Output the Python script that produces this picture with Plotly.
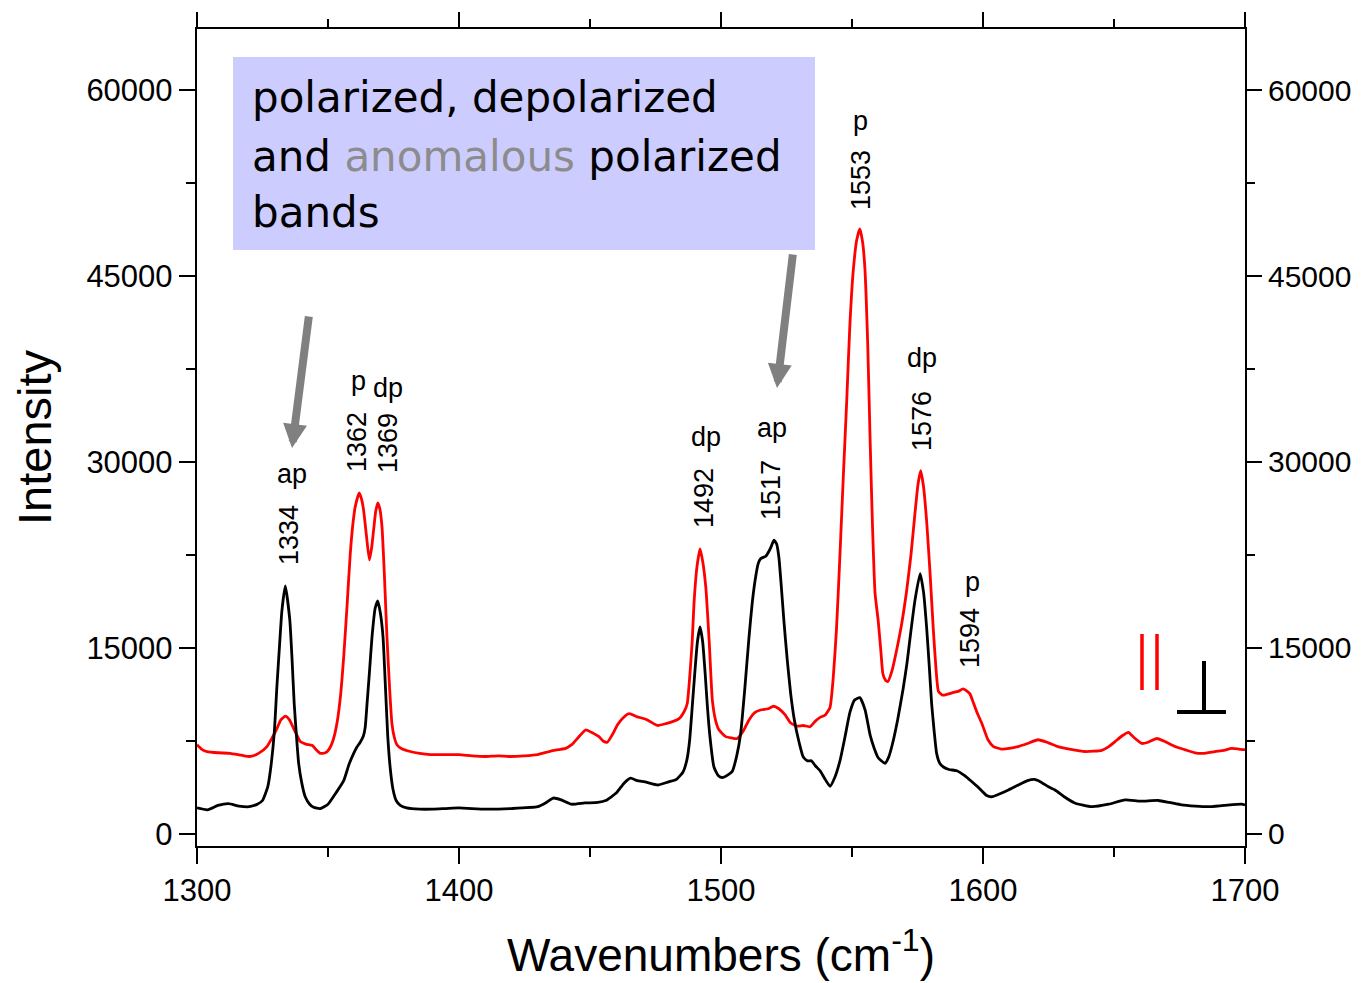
import plotly.graph_objects as go

# ---------------- data ----------------
black_wn = [1300, 1304, 1308, 1312, 1316, 1320, 1323, 1325, 1327, 1328, 1329.5, 1330.5, 1331.5, 1332.4,
            1333.7, 1335.4, 1336.3, 1337.1, 1338, 1338.8, 1340, 1341.3, 1343, 1344.5, 1347, 1350, 1353,
            1356, 1358, 1359.8, 1361, 1362.3, 1363.5, 1364.2, 1364.9, 1365.8, 1366.8, 1368, 1369, 1370,
            1371, 1372, 1372.8, 1373.8, 1374.8, 1376, 1377.6, 1380, 1385, 1390, 1395, 1400, 1410, 1420,
            1430, 1433, 1436, 1439, 1443, 1448, 1453, 1456, 1460, 1463, 1465.5, 1468, 1471, 1476, 1480,
            1483, 1485.5, 1487, 1488, 1489, 1490, 1491, 1492, 1493, 1494, 1494.8, 1495.8, 1497.3, 1499,
            1500.5, 1502.5, 1504.3, 1506, 1507.5, 1509, 1510.7, 1512, 1513.2, 1514.2, 1515.1, 1516,
            1517.1, 1518.3, 1519.2, 1520.2, 1521.2, 1522.1, 1523, 1524, 1525.3, 1526.6, 1528, 1529.8,
            1531.4, 1533, 1534.5, 1536, 1537.8, 1539.5, 1541.6, 1543.5, 1545.4, 1547.3, 1549.2, 1551,
            1553, 1555, 1556.9, 1558.5, 1560, 1562.6, 1564, 1565.6, 1567.5, 1569.5, 1571, 1572.1, 1574,
            1576, 1577.3, 1578.5, 1579.5, 1580.4, 1581.4, 1582.3, 1583.5, 1584.9, 1587, 1590, 1593, 1595,
            1598, 1601.4, 1603.3, 1606, 1609.7, 1613, 1617, 1619.6, 1622, 1625, 1627.5, 1631, 1635,
            1641.5, 1648, 1654.2, 1660, 1666.9, 1671, 1675.8, 1681, 1686, 1692, 1698.7, 1700]
black_int = [2100, 1950, 2300, 2450, 2250, 2200, 2400, 2700, 3800, 5100, 8200, 11900, 15200, 18000,
             20000, 17300, 14000, 10500, 7800, 5700, 4100, 3000, 2400, 2150, 2050, 2400, 3300,
             4300, 5600, 6500, 7000, 7400, 7900, 8600, 10500, 13000, 15900, 18200, 18800, 17800,
             15900, 11500, 7900, 5200, 3600, 2700, 2300, 2100, 2000, 2000, 2050, 2100, 2000, 2050,
             2200, 2500, 2900, 2750, 2400, 2500, 2550, 2700, 3300, 4100, 4500, 4300, 4200, 3950, 4200,
             4400, 5000, 6000, 7500, 10200, 13000, 15500, 16700, 15500, 12800, 10300, 7800, 5400, 4700,
             4550, 4750, 5050, 6300, 8100, 11500, 15900, 18800, 20700, 21800, 22200, 22300,
             22400, 22800, 23200, 23700, 23400, 22300, 20000, 17200, 14000, 11300, 9200, 7400,
             6200, 5900, 5900, 5500, 5100, 4500, 3850, 4600, 5900, 7800, 9800, 10800,
             11000, 10000, 8000, 6900, 6150, 5700, 6200, 7400, 9300, 11700, 13800, 15700, 18800,
             21000, 19500, 16600, 13500, 10500, 8200, 6500, 5700, 5400, 5200, 5100, 4700, 4350,
             3800, 3100, 3000, 3200, 3550, 3900, 4300, 4400, 4200, 3800, 3550, 3000, 2500,
             2200, 2400, 2750, 2650, 2700, 2550, 2350, 2250, 2200, 2300, 2400, 2350]

red_wn = [1300, 1302, 1303.8, 1308, 1312.7, 1317, 1320.4, 1323.5, 1326.7, 1328.8, 1330.5, 1332, 1333.7,
          1335.3, 1336.9, 1338.3, 1339.4, 1341.5, 1343.9, 1345.5, 1347.1, 1349, 1350.3, 1352, 1353.4,
          1354.8, 1356, 1357.3, 1358.5, 1359.5, 1360.4, 1361.9, 1362.8, 1363.6, 1364.7, 1365.8, 1366.6,
          1367.4, 1368.2, 1369, 1369.8, 1370.6, 1371.5, 1372.5, 1373.5, 1374.4, 1375.3, 1376.3, 1378,
          1381.4, 1385, 1389, 1395, 1400, 1405, 1410, 1415, 1419, 1425, 1430, 1434.4, 1438, 1440.7,
          1443, 1446, 1448.4, 1450.5, 1453.4, 1455, 1456.6, 1458.5, 1460.5, 1462.3, 1464.9, 1468,
          1471.3, 1473.5, 1475.7, 1479, 1482, 1484, 1486, 1487.1, 1488, 1489, 1489.7, 1490.8, 1492,
          1493, 1494.2, 1495.5, 1496.7, 1498, 1499.2, 1501.8, 1504, 1506.2, 1508.5, 1510.7, 1513,
          1515.1, 1518, 1520, 1522.1, 1524.5, 1526.6, 1529, 1531.4, 1534, 1536, 1537.8, 1539.8,
          1541.6, 1542.8, 1544.1, 1545.4, 1546.7, 1548, 1549.2, 1550.5, 1551.8, 1553, 1554, 1554.9,
          1556, 1556.9, 1557.8, 1558.8, 1560, 1561, 1561.8, 1562.8, 1563.7, 1565.3, 1567, 1569,
          1570.9, 1572.5, 1574, 1575.2, 1576.2, 1577.3, 1578.5, 1579.8, 1581, 1582, 1583, 1584.5,
          1586.1, 1588.5, 1590.5, 1592.4, 1594, 1595, 1596.3, 1597.6, 1599.5, 1601.9, 1604, 1607.1,
          1610, 1613.4, 1617, 1621, 1625, 1628.6, 1633, 1639, 1645.3, 1648, 1650.4, 1653, 1655.5,
          1657.5, 1660.6, 1663, 1666.3, 1669, 1673.3, 1677, 1680.9, 1684, 1688.5, 1692, 1694.9,
          1699.4, 1700]
red_int = [7200, 6800, 6650, 6550, 6500, 6350, 6250, 6500, 7050, 7800, 8500, 9200, 9500,
           9200, 8500, 7900, 7450, 7250, 7150, 6800, 6500, 6550, 6800, 7600, 8900,
           11200, 14300, 18500, 22600, 25000, 26400, 27500, 27000, 26100, 24000, 22100, 23000,
           24500, 26000, 26700, 26200, 24800, 21000, 15900, 11800, 8900, 7800, 7200, 6900,
           6650, 6500, 6400, 6400, 6400, 6300, 6250, 6300, 6250, 6300, 6400, 6650, 6800, 6900,
           7200, 7900, 8400, 8200, 7850, 7500, 7400, 8000, 8800, 9300, 9700, 9450,
           9250, 9000, 8750, 8900, 9100, 9300, 9900, 10500, 12500, 15500, 18600, 21500, 23000,
           22000, 19900, 15500, 10800, 9100, 8400, 7850, 7750, 7700, 8300, 9200, 9800,
           10000, 10100, 10300, 10100, 9600, 8950, 8700, 8750, 8650, 9100, 9400, 9600,
           10200, 12500, 16600, 22500, 28900, 35000, 41100, 45500, 47900, 48800, 47800, 45700,
           39500, 31900, 25000, 19400, 17200, 14800, 12900, 12400, 12300, 13200, 14800, 17000,
           19700, 22500, 25800, 28200, 29300, 28000, 25200, 21000, 16600, 13500, 11500, 11200,
           11250, 11400, 11500, 11700, 11500, 11300, 10600, 9850, 8950, 7600, 7050, 6850,
           6900, 7050, 7300, 7600, 7350, 7050, 6850, 6650, 6750, 7050, 7450, 7900, 8200,
           7800, 7300, 7400, 7700, 7500, 7050, 6800, 6550, 6500, 6650, 6750, 6900,
           6800, 6800]

x_ticks = [1300, 1400, 1500, 1600, 1700]
y_ticks = [0, 15000, 30000, 45000, 60000]
y_tick_labels = ["0", "15000", "30000", "45000", "60000"]
x_range = [1300, 1700]
y_range = [-970, 64920]

peak_numbers = ["1334", "1362", "1369", "1492", "1517", "1553", "1576", "1594"]
peak_types = ["ap", "p", "dp", "dp", "ap", "p", "dp", "p"]

# ---------------- layout helpers (pixel -> paper) ----------------
W, H = 1365, 983
L, R, T, B = 197, 1245, 29, 846


def px(x):
    return (x - L) / (R - L)


def py(y):
    return (B - y) / (B - T)


FONT = "Liberation Sans, Arial, sans-serif"

fig = go.Figure()
fig.add_trace(go.Scatter(x=red_wn, y=red_int, mode="lines",
                         line=dict(color="#ff0000", width=2.8, shape="spline", smoothing=0.5),
                         showlegend=False, hoverinfo="skip"))
fig.add_trace(go.Scatter(x=black_wn, y=black_int, mode="lines",
                         line=dict(color="#000000", width=2.8, shape="spline", smoothing=0.5),
                         showlegend=False, hoverinfo="skip"))
# invisible trace for the mirrored (top/right) axes
fig.add_trace(go.Scatter(x=[x_range[0]], y=[y_range[0]], xaxis="x2", yaxis="y2",
                         mode="markers", marker=dict(opacity=0), showlegend=False, hoverinfo="skip"))

axis_common = dict(showgrid=False, zeroline=False, ticks="outside", ticklen=16, tickwidth=2.2,
                   tickcolor="black", linecolor="black", linewidth=2.4, automargin=False)
big_tick_font = dict(family=FONT, size=31, color="black")
right_tick_font = dict(family=FONT, size=30, color="black")

fig.update_layout(
    width=W, height=H,
    margin=dict(l=L, r=W - R, t=T, b=H - B),
    paper_bgcolor="white", plot_bgcolor="white",
    xaxis=dict(range=x_range, tickvals=x_ticks, ticktext=[str(v) for v in x_ticks],
               showline=True, mirror=True, tickfont=big_tick_font,
               minor=dict(dtick=50, tick0=1300, ticks="outside", ticklen=9, tickwidth=2.2, tickcolor="black"),
               title=dict(text="Wavenumbers (cm<sup>-1</sup>)", font=dict(family=FONT, size=46, color="black"),
                          standoff=31),
               **axis_common),
    yaxis=dict(range=y_range, tickvals=y_ticks, ticktext=y_tick_labels, showline=True, mirror=True,
               tickfont=big_tick_font,
               minor=dict(dtick=7500, tick0=0, ticks="outside", ticklen=9, tickwidth=2.2, tickcolor="black"),
               title=dict(text="Intensity", font=dict(family=FONT, size=47, color="black"), standoff=20),
               **axis_common),
    xaxis2=dict(range=x_range, tickvals=x_ticks, overlaying="x", side="top", showline=False,
                showticklabels=False,
                minor=dict(dtick=50, tick0=1300, ticks="outside", ticklen=9, tickwidth=2.2, tickcolor="black"),
                **axis_common),
    yaxis2=dict(range=y_range, tickvals=y_ticks, ticktext=y_tick_labels, overlaying="y", side="right",
                showline=False, showticklabels=True, tickfont=right_tick_font,
                minor=dict(dtick=7500, tick0=0, ticks="outside", ticklen=9, tickwidth=2.2, tickcolor="black"),
                **axis_common),
)

# ---------------- text box ----------------
fig.add_shape(type="rect", xref="paper", yref="paper", x0=px(233), x1=px(815), y0=py(250), y1=py(57),
              fillcolor="#ccccff", line=dict(width=0), layer="below")
box_font = dict(family="DejaVu Sans, Verdana, sans-serif", size=42, color="black")
box_lines = ["polarized, depolarized",
             "and <span style='color:#8c8c8c'>anomalous</span> polarized",
             "bands"]
box_centers = [98, 156, 212]
for txt, cy in zip(box_lines, box_centers):
    fig.add_annotation(text=txt, xref="paper", yref="paper", x=px(250), y=py(cy),
                       xanchor="left", yanchor="middle", showarrow=False, font=box_font)

# ---------------- arrows ----------------
for tip, tail in [((292, 448), (309, 315)), ((777, 388), (793, 253))]:
    fig.add_annotation(text="", xref="paper", yref="paper", x=px(tip[0]), y=py(tip[1]),
                       axref="pixel", ayref="pixel", ax=tail[0] - tip[0], ay=tail[1] - tip[1],
                       showarrow=True, arrowhead=2, arrowsize=0.6, arrowwidth=8,
                       arrowcolor="#808080", standoff=0)

# ---------------- peak labels ----------------
num_pos = [(289, 535), (357, 442), (388, 443), (704, 498), (771, 490), (861, 180), (922, 421), (970, 638)]
type_pos = [(292, 474), (358, 381), (388, 388), (706, 437), (772, 428), (861, 121), (922, 358), (972, 582)]
lab_font = dict(family=FONT, size=27, color="black")
for t, (x, y) in zip(peak_numbers, num_pos):
    fig.add_annotation(text=t, xref="paper", yref="paper", x=px(x), y=py(y), textangle=-90,
                       xanchor="center", yanchor="middle", showarrow=False, font=lab_font)
for t, (x, y) in zip(peak_types, type_pos):
    fig.add_annotation(text=t, xref="paper", yref="paper", x=px(x), y=py(y),
                       xanchor="center", yanchor="middle", showarrow=False, font=lab_font)

# ---------------- parallel / perpendicular symbols ----------------
for xx in (1142, 1157):
    fig.add_shape(type="line", xref="paper", yref="paper", x0=px(xx), x1=px(xx), y0=py(634), y1=py(690),
                  line=dict(color="#ff0000", width=3.5))
fig.add_shape(type="line", xref="paper", yref="paper", x0=px(1204), x1=px(1204), y0=py(661), y1=py(712),
              line=dict(color="black", width=4))
fig.add_shape(type="line", xref="paper", yref="paper", x0=px(1177), x1=px(1226), y0=py(712), y1=py(712),
              line=dict(color="black", width=4))

fig.write_html("out.html")
